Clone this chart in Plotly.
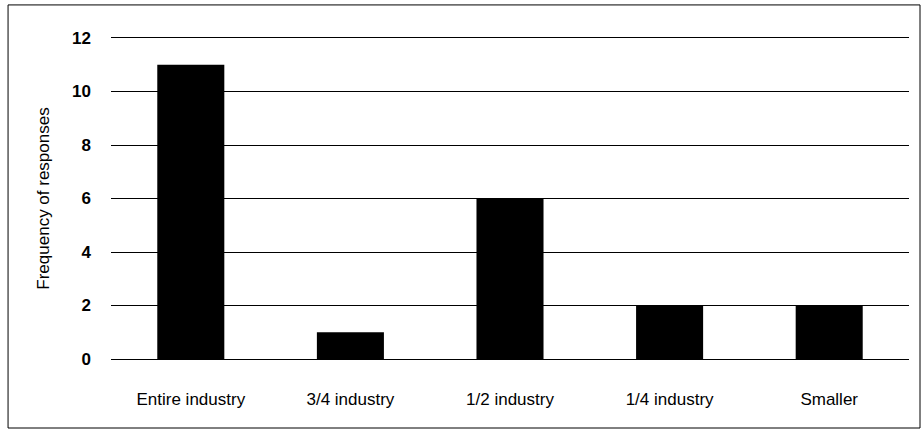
import plotly.graph_objects as go

categories = ["Entire industry", "3/4 industry", "1/2 industry", "1/4 industry", "Smaller"]
responses = [11, 1, 6, 2, 2]
y_ticks = [0, 2, 4, 6, 8, 10, 12]

FONT = "Liberation Sans, Arial, sans-serif"

fig = go.Figure(
    go.Bar(
        x=categories,
        y=responses,
        marker=dict(color="black", line=dict(width=0)),
        width=0.42,
    )
)

fig.update_layout(
    width=921,
    height=430,
    margin=dict(l=111, r=12, t=38, b=71),
    paper_bgcolor="white",
    plot_bgcolor="white",
    showlegend=False,
    font=dict(family=FONT, color="black"),
    shapes=[
        # frame around the whole chart
        dict(
            type="rect", xref="paper", yref="paper",
            x0=-0.129, x1=1.0138, y0=-0.215, y1=1.103,
            line=dict(color="black", width=1), fillcolor="rgba(0,0,0,0)",
            layer="below",
        )
    ],
)

fig.update_xaxes(
    showgrid=False,
    showline=True,
    mirror=True,
    linecolor="black",
    linewidth=1,
    ticks="",
    tickfont=dict(size=17, family=FONT),
    ticklabelstandoff=25,
)

fig.update_yaxes(
    range=[0, 12],
    tickvals=y_ticks,
    ticktext=[f"<b>{v}</b>" for v in y_ticks],
    showgrid=True,
    gridcolor="black",
    gridwidth=1,
    zeroline=True,
    zerolinecolor="black",
    zerolinewidth=1,
    showline=False,
    ticks="",
    tickfont=dict(size=17, family=FONT),
    ticklabelstandoff=19,
    title=dict(text="Frequency of responses", font=dict(size=17, family=FONT), standoff=18),
)

fig.update_traces(hoverinfo="skip")

fig.write_html("out.html")
